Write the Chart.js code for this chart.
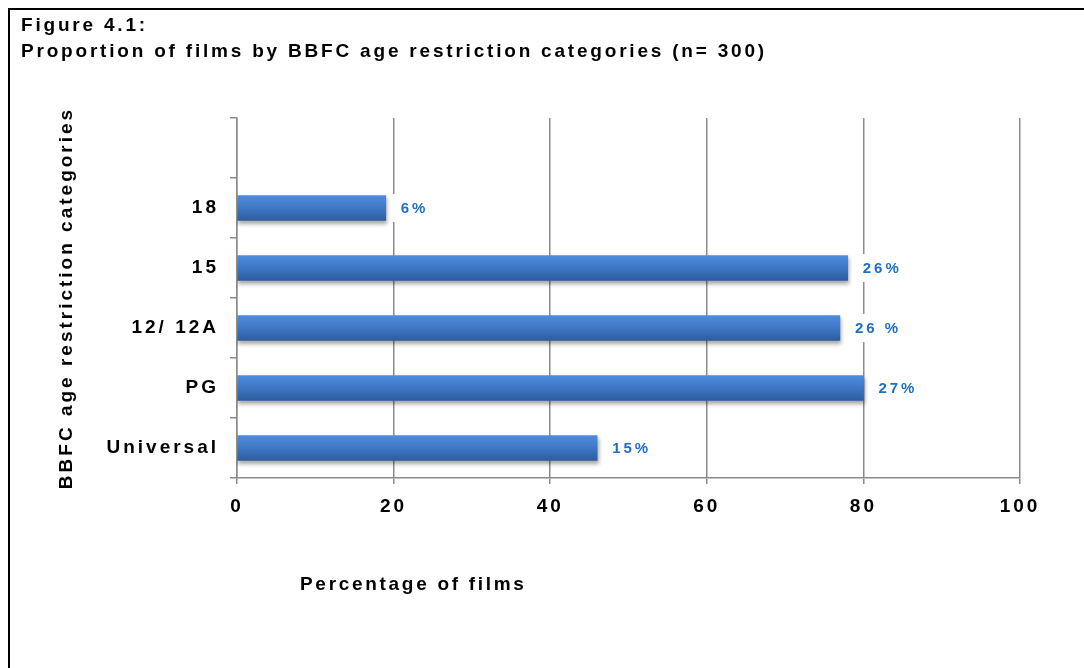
<!DOCTYPE html>
<html>
<head>
<meta charset="utf-8">
<script src="https://cdn.jsdelivr.net/npm/chart.js@4.4.1/dist/chart.umd.min.js"></script>
<style>
  html, body { margin: 0; padding: 0; background: #fff; overflow: hidden; }
  #wrap { position: relative; width: 1084px; height: 668px; }
  #frame { position: absolute; left: 8px; top: 8px; width: 1090px; height: 680px;
           border-top: 2px solid #000; border-left: 2px solid #000; }
  .txt { position: absolute; font-family: "Liberation Sans", Arial, sans-serif; font-weight: bold;
         font-size: 19px; line-height: 26px; color: #000; white-space: nowrap; }
  #head { left: 21px; top: 12px; letter-spacing: 2.8px; }
  #xTitle { left: 300px; top: 571px; letter-spacing: 2.7px; }
  canvas { position: absolute; left: 0; top: 0; }
</style>
</head>
<body>
<div id="wrap">
  <div id="frame"></div>
  <canvas id="chart" width="1084" height="668"></canvas>
  <div id="head" class="txt">Figure 4.1:<br>Proportion of films by BBFC age restriction categories (n= 300)</div>
  <div id="xTitle" class="txt">Percentage of films</div>
</div>
<script>
// data (top category slot is empty in the original)
const categories = ['', '18', '15', '12/ 12A', 'PG', 'Universal'];
const filmValues = [null, 19, 78, 77, 80, 46];
const valueLabels = ['', '6%', '26%', '26 %', '27%', '15%'];
const xMin = 0, xMax = 100, xStep = 20;

const FONT = '"Liberation Sans", Arial, sans-serif';
const GRID = '#8c8c8c';
const BAR_H = 25;

const spacing = {
    id: 'spacing',
    beforeLayout: chart => { chart.ctx.letterSpacing = '3px'; },
    beforeDraw: chart => { chart.ctx.letterSpacing = '3px'; }
};

const barShadow = {
    id: 'barShadow',
    beforeDatasetsDraw(chart) {
        const c = chart.ctx;
        c.save();
        c.shadowColor = 'rgba(0,0,0,0.35)';
        c.shadowBlur = 4;
        c.shadowOffsetX = 1;
        c.shadowOffsetY = 3;
    },
    afterDatasetsDraw(chart) { chart.ctx.restore(); }
};

const barLabels = {
    id: 'barLabels',
    afterDatasetsDraw(chart) {
        const c = chart.ctx;
        const meta = chart.getDatasetMeta(0);
        c.save();
        c.font = 'bold 15px ' + FONT;
        c.letterSpacing = '3px';
        c.textBaseline = 'middle';
        c.textAlign = 'left';
        meta.data.forEach((bar, i) => {
            const txt = valueLabels[i];
            if (!txt || filmValues[i] == null) return;
            const w = c.measureText(txt).width;
            c.fillStyle = '#fff';
            c.fillRect(bar.x + 5, bar.y - 14, w + 16, 28);
            c.fillStyle = '#1f6fc2';
            c.fillText(txt, bar.x + 15, bar.y + 1);
        });
        c.restore();
    }
};

function barFill(ctx) {
    const { chart, dataIndex } = ctx;
    const ys = chart.scales.y;
    const yc = ys && dataIndex !== undefined ? ys.getPixelForValue(dataIndex) : NaN;
    if (!isFinite(yc)) return '#3d76c6';
    const g = chart.ctx.createLinearGradient(0, yc - BAR_H / 2, 0, yc + BAR_H / 2);
    g.addColorStop(0, '#4e8ddd');
    g.addColorStop(0.5, '#3f77c4');
    g.addColorStop(1, '#2d5d9e');
    return g;
}

new Chart(document.getElementById('chart'), {
    type: 'bar',
    data: {
        labels: categories,
        datasets: [{
            data: filmValues,
            barThickness: BAR_H,
            borderWidth: 0,
            backgroundColor: barFill
        }]
    },
    options: {
        indexAxis: 'y',
        responsive: false,
        animation: false,
        layout: { padding: { top: 118, right: 64, bottom: 0, left: 0 } },
        plugins: { legend: { display: false }, tooltip: { enabled: false } },
        scales: {
            x: {
                min: xMin, max: xMax,
                afterFit: s => { s.height = 190; },
                ticks: { stepSize: xStep, color: '#000', padding: 11, font: { family: FONT, size: 19, weight: 'bold' } },
                grid: { color: GRID, lineWidth: 1.5, tickLength: 6 },
                border: { color: GRID, width: 1.5 }
            },
            y: {
                afterFit: s => { s.width = 237; },
                ticks: { color: '#000', padding: 11, font: { family: FONT, size: 19, weight: 'bold' } },
                grid: { drawOnChartArea: false, color: GRID, lineWidth: 1.5, tickLength: 7 },
                border: { color: GRID, width: 1.5 },
                title: {
                    display: true,
                    text: 'BBFC age restriction categories',
                    color: '#000',
                    padding: { top: 55, bottom: 0 },
                    font: { family: FONT, size: 19, weight: 'bold' }
                }
            }
        }
    },
    plugins: [spacing, barShadow, barLabels]
});
</script>
</body>
</html>
